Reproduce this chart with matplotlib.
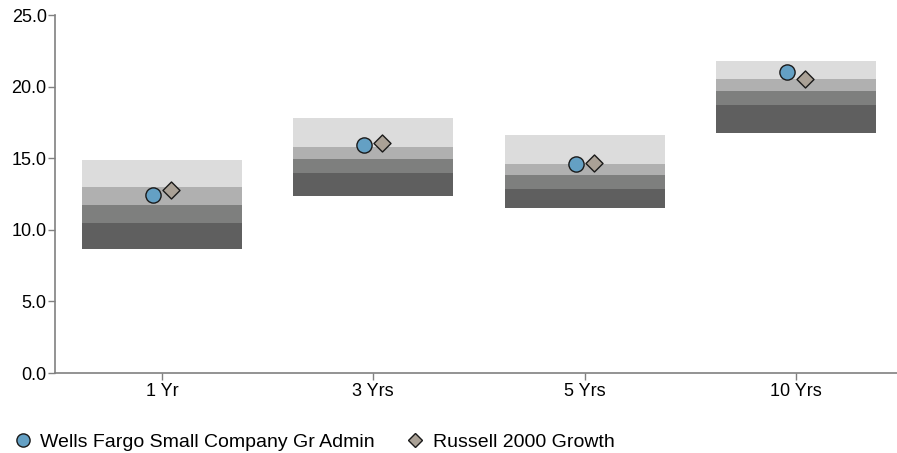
import numpy as np

import matplotlib
matplotlib.use('Agg')
import matplotlib.pyplot as plt
from matplotlib.lines import Line2D

plt.rcParams['font.family'] = ['Liberation Sans', 'DejaVu Sans']

periods = ["1 Yr", "3 Yrs", "5 Yrs", "10 Yrs"]
# quartile band edges: bottom (5th pct), 25th, median, 75th, top (95th pct)
band_bottom = [8.66, 12.36, 11.52, 16.76]
band_q1 = [10.47, 13.97, 12.85, 18.72]
band_med = [11.73, 14.94, 13.83, 19.69]
band_q3 = [12.99, 15.78, 14.59, 20.53]
band_top = [14.87, 17.81, 16.62, 21.79]
fund = [12.43, 15.92, 14.59, 21.02]
bench = [12.78, 16.06, 14.66, 20.53]
fund_name = "Wells Fargo Small Company Gr Admin"
bench_name = "Russell 2000 Growth"

band_colors = ["#5f5f5f", "#7e7f7e", "#b0b0b0", "#dcdcdc"]

fig = plt.figure(figsize=(8.97, 4.53), dpi=100)
ax = fig.add_axes([55 / 897, 80 / 453, 1 - 55 / 897, 358 / 453])

x = np.arange(len(periods))
edges = [band_bottom, band_q1, band_med, band_q3, band_top]
width = 0.757
for i in range(4):
    lo = np.array(edges[i])
    hi = np.array(edges[i + 1])
    ax.bar(x, hi - lo, bottom=lo, width=width, color=band_colors[i], linewidth=0)

ax.scatter(x - 0.043, fund, s=120, marker='o', color="#64a0c4",
           edgecolor="#1a1a1a", linewidth=1.0, zorder=3)
ax.scatter(x + 0.043, bench, s=75, marker='D', color="#aaa196",
           edgecolor="#1a1a1a", linewidth=1.0, zorder=3)

ax.set_xlim(-0.506, 3.478)
ax.set_ylim(0, 25)
ax.set_yticks([0, 5, 10, 15, 20, 25])
ax.set_yticklabels(["%.1f" % v for v in [0, 5, 10, 15, 20, 25]])
ax.set_xticks(x)
ax.set_xticklabels(periods)
for s in ["top", "right"]:
    ax.spines[s].set_visible(False)
for s in ["left", "bottom"]:
    ax.spines[s].set_color("#808080")
    ax.spines[s].set_linewidth(1.2)
ax.tick_params(axis='both', colors="#808080", labelcolor="#000000",
               labelsize=13, length=5, width=1, pad=1)
ax.tick_params(axis='x', pad=2)

handles = [
    Line2D([], [], marker='o', linestyle='none', markersize=9.5,
           markerfacecolor="#64a0c4", markeredgecolor="#1a1a1a", label=fund_name),
    Line2D([], [], marker='D', linestyle='none', markersize=7.5,
           markerfacecolor="#aaa196", markeredgecolor="#1a1a1a", label=bench_name),
]
fig.legend(handles=handles, loc='center left', bbox_to_anchor=(0.0148, 11 / 453),
           ncol=2, frameon=False, fontsize=14, handletextpad=0.376,
           columnspacing=1.6, handlelength=1.0, borderaxespad=0, borderpad=0)

plt.savefig("out.png", format="png", dpi=100)
